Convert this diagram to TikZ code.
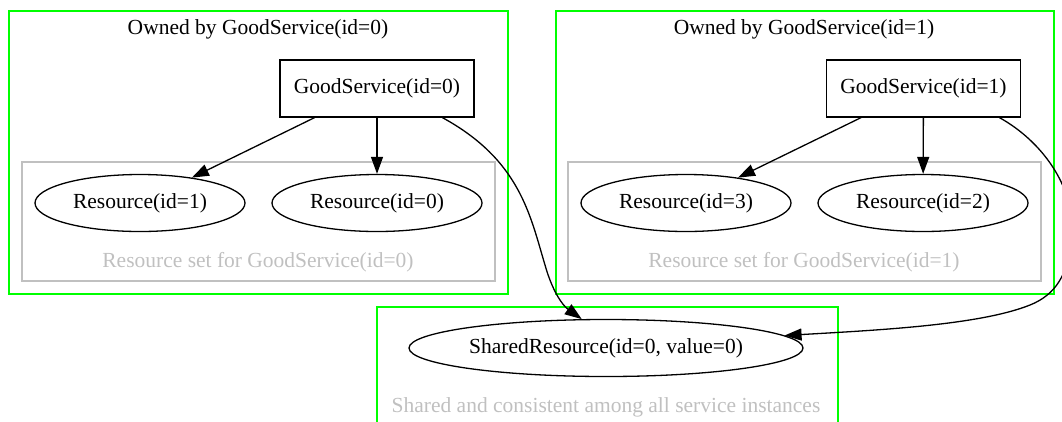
\documentclass[tikz,border=0pt]{standalone}
\usepackage{fontspec}
\setmainfont{Liberation Serif}
\usetikzlibrary{shapes.geometric,arrows.meta}
\definecolor{gvgreen}{HTML}{00FF00}
\definecolor{gvgray}{HTML}{C0C0C0}
\begin{document}
\begin{tikzpicture}[x=1pt,y=-1pt,
  every node/.style={font=\fontsize{21.5pt}{26pt}\selectfont},
  outer/.style={draw=gvgreen,line width=1.5pt,inner sep=0pt},
  inner/.style={draw=gvgray,line width=1.5pt,inner sep=0pt},
  svc/.style={draw=black,line width=1.3pt,rectangle,minimum width=194pt,minimum height=57pt,inner sep=0pt},
  res/.style={draw=black,line width=1.3pt,ellipse,minimum width=210pt,minimum height=57pt,inner sep=0pt},
  graytext/.style={text=gvgray,inner sep=0pt},
  arr/.style={draw=black,line width=1.3pt,-{Triangle[length=17pt,width=12pt]}}]
\useasboundingbox (0,0) rectangle (1062,421);
\clip (0,0) rectangle (1062,421);
% clusters
\node[outer,minimum width=499pt,minimum height=283pt] (c0) at (258.5,152.5) {};
\node[inner,minimum width=473pt,minimum height=119pt] (g0) at (258.5,221.5) {};
\node[outer,minimum width=498pt,minimum height=283pt] (c1) at (805,152.5) {};
\node[inner,minimum width=473pt,minimum height=119pt] (g1) at (804.5,221.5) {};
\node[outer,minimum width=461pt,minimum height=133pt] (c2) at (607.5,373.5) {};
% labels
\node[inner sep=0pt] (t0) at (258,29) {Owned by GoodService(id=0)};
\node[inner sep=0pt] (t1) at (804,29) {Owned by GoodService(id=1)};
\node[graytext] (l0) at (258,262.5) {Resource set for GoodService(id=0)};
\node[graytext] (l1) at (804,262.5) {Resource set for GoodService(id=1)};
\node[graytext] (l2) at (606,407) {Shared and consistent among all service instances};
% nodes
\node[svc] (gs0) at (377,88.5) {GoodService(id=0)};
\node[svc] (gs1) at (923.5,88.5) {GoodService(id=1)};
\node[res] (r1) at (140,203) {Resource(id=1)};
\node[res] (r0) at (377,203) {Resource(id=0)};
\node[res] (r3) at (686,203) {Resource(id=3)};
\node[res] (r2) at (923,203) {Resource(id=2)};
\node[draw=black,line width=1.3pt,ellipse,minimum width=394pt,minimum height=57pt,inner sep=0pt] (sr) at (606,348) {SharedResource(id=0, value=0)};
% edges
\draw[arr] (gs0.205) -- (r1);
\draw[arr] (gs0) -- (r0);
\draw[arr] (gs1.205) -- (r3);
\draw[arr] (gs1) -- (r2);
\draw[arr] (gs0.336.6) .. controls (520,160) and (530,215) .. (545,265)
  .. controls (552,290) and (562,305) .. (sr.130);
\draw[arr] (gs1.339.6) .. controls (1040,140) and (1075,185) .. (1072,235)
  .. controls (1069,275) and (1055,295) .. (1030,305)
  .. controls (980,325) and (880,330) .. (sr.4);
\end{tikzpicture}
\end{document}
